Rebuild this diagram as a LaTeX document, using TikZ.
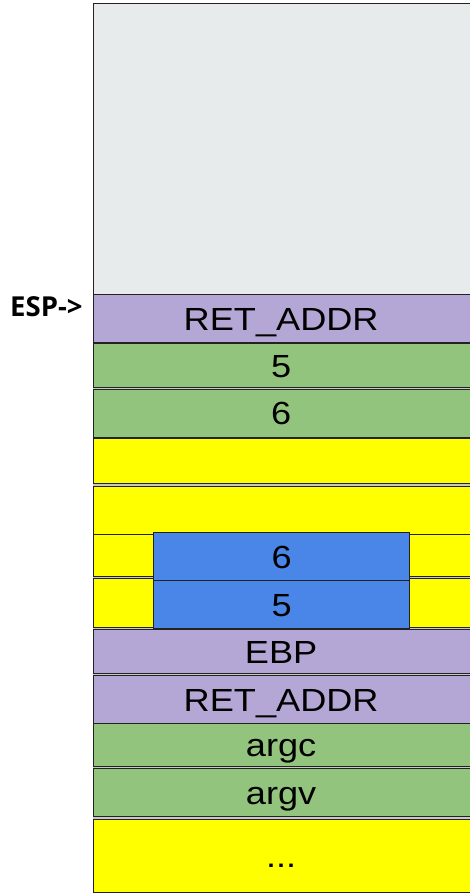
\documentclass[tikz,border=0pt]{standalone}
\usepackage{fontspec}
\usepackage{graphicx}
\setmainfont{Liberation Sans}
\newfontfamily\espfont{Open Sans}
\definecolor{bord}{HTML}{222222}
\definecolor{cgrey}{HTML}{E8EBEC}
\definecolor{cpurple}{HTML}{B4A7D6}
\definecolor{cgreen}{HTML}{93C47D}
\definecolor{cyellow}{HTML}{FFFF00}
\definecolor{cblue}{HTML}{4A86E8}
\definecolor{cgap}{HTML}{C8C8C8}
\newcommand{\ct}[1]{\hspace*{-5pt}\scalebox{1.13}[1]{#1}}
\newcommand{\cb}[1]{\scalebox{1.13}[1]{#1}}
\tikzset{
  cell/.style={draw=bord, line width=1.3pt, rectangle, anchor=north west,
    inner sep=0pt, text height=22.9pt, text depth=0pt,
    font=\fontsize{32}{36}\selectfont},
}
\begin{document}
\begin{tikzpicture}[x=1pt,y=-1pt]
\useasboundingbox (0,0) rectangle (469,893);
\fill[cgap] (93,294) rectangle (473,892);
\node[cell, fill=cgrey,   minimum width=380pt, minimum height=291pt] (top) at (93,3) {};
\node[cell, fill=cpurple, minimum width=380pt, minimum height=48pt] (ret1) at (93,294) {\ct{RET\_ADDR}};
\node[cell, fill=cgreen,  minimum width=380pt, minimum height=44pt] (five1) at (93,343) {\ct{5}};
\node[cell, fill=cgreen,  minimum width=380pt, minimum height=47.5pt] (six1) at (93,389) {\ct{6}};
\node[cell, fill=cyellow, minimum width=380pt, minimum height=45.5pt] (y1) at (93,437.5) {};
\node[cell, fill=cyellow, minimum width=380pt, minimum height=48pt] (y2) at (93,486) {};
\node[cell, fill=cyellow, minimum width=380pt, minimum height=41.5pt] (y3) at (93,534) {};
\node[cell, fill=cyellow, minimum width=380pt, minimum height=49pt] (y4) at (93,578) {};
\node[cell, fill=cblue,   minimum width=256pt, minimum height=48pt] (b6) at (153,532) {\cb{6}};
\node[cell, fill=cblue,   minimum width=256pt, minimum height=48pt] (b5) at (153,580) {\cb{5}};
\node[cell, fill=cpurple, minimum width=380pt, minimum height=44pt] (ebp) at (93,629) {\ct{EBP}};
\node[cell, fill=cpurple, minimum width=380pt, minimum height=48pt] (ret2) at (93,675) {\ct{RET\_ADDR}};
\node[cell, fill=cgreen,  minimum width=380pt, minimum height=42.5pt] (argc) at (93,723) {\ct{argc}};
\node[cell, fill=cgreen,  minimum width=380pt, minimum height=48pt] (argv) at (93,768) {\ct{argv}};
\node[cell, fill=cyellow, minimum width=380pt, minimum height=73pt] (dots) at (93,819) {\ct{...}};
\node[anchor=base west, inner sep=0pt, font=\espfont\bfseries\fontsize{27.5}{30}\selectfont] (esp) at (10,316.7) {ESP->};
\end{tikzpicture}
\end{document}
